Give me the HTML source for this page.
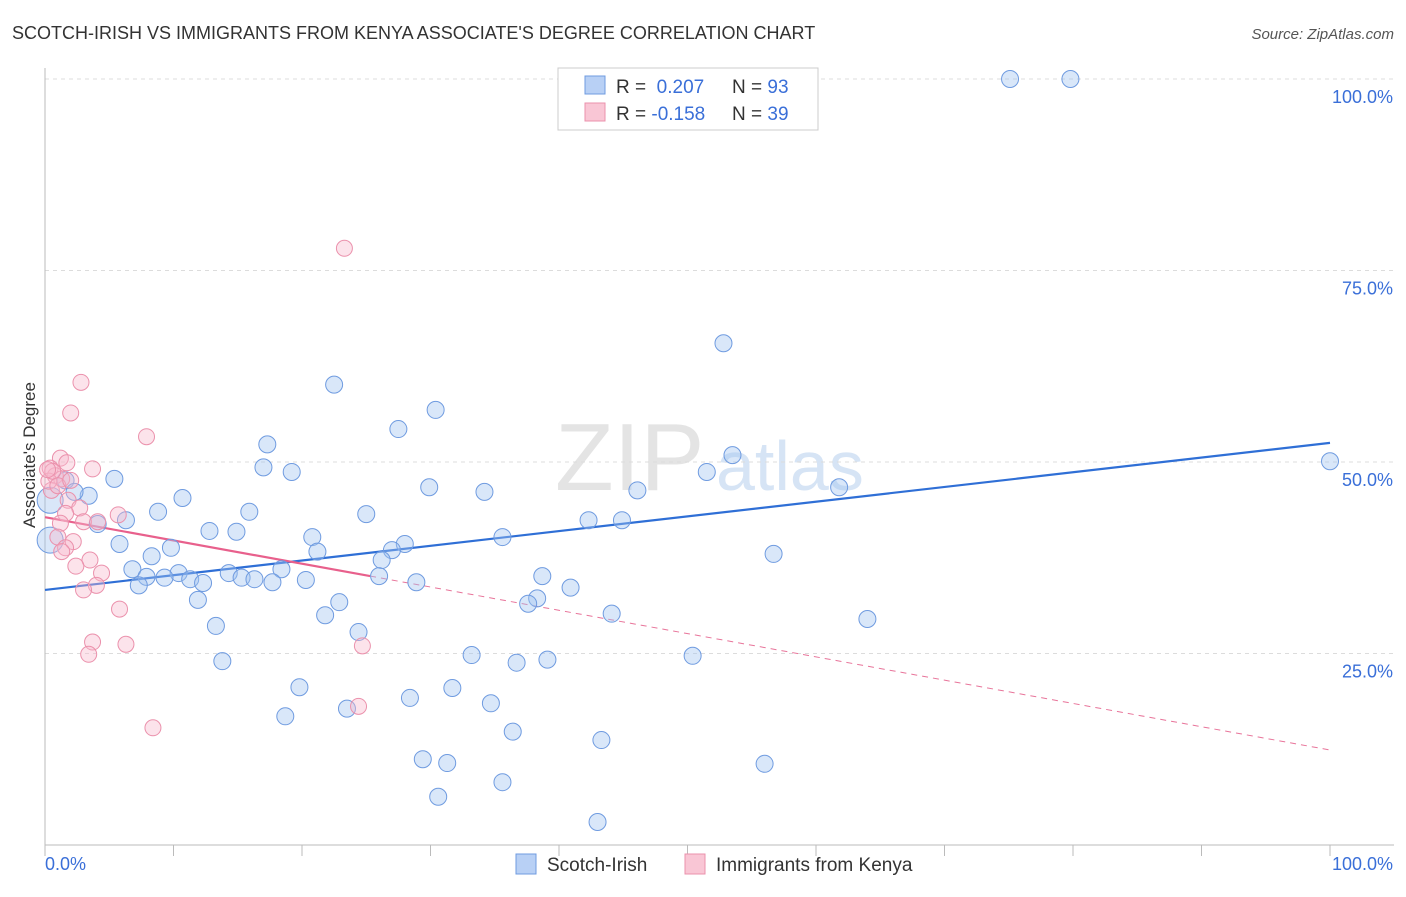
<!DOCTYPE html>
<html><head><meta charset="utf-8"><style>
body{margin:0;background:#fff;font-family:"Liberation Sans",sans-serif}
svg text{font-family:"Liberation Sans",sans-serif}
</style></head><body>
<svg width="1406" height="892" xmlns="http://www.w3.org/2000/svg">
<text x="12" y="39" font-size="18" fill="#333">SCOTCH-IRISH VS IMMIGRANTS FROM KENYA ASSOCIATE'S DEGREE CORRELATION CHART</text>
<text x="1394" y="39" font-size="15" fill="#555" font-style="italic" text-anchor="end">Source: ZipAtlas.com</text>
<g>
<text x="555" y="490" font-size="96" fill="#e4e4e4" font-family="Liberation Serif">ZIP</text>
<text x="716" y="490" font-size="70" fill="#d6e4f5">atlas</text>
</g>
<g id="grid"></g>
<g id="axes"></g>
<g id="lines"></g>
<g id="pts"></g>
<text x="35" y="455" font-size="17" fill="#333" text-anchor="middle" transform="rotate(-90 35 455)">Associate's Degree</text>
<g>
<rect x="558" y="68" width="260" height="62" fill="#fff" stroke="#ccc"/>
<rect x="585" y="76" width="20" height="18" fill="#b8d0f5" stroke="#6f9be0"/>
<rect x="585" y="103" width="20" height="18" fill="#f9c6d5" stroke="#eb91ac"/>
<text x="616" y="93" font-size="19" fill="#333">R = <tspan fill="#3a6fd8">&#160;0.207</tspan><tspan x="732">N = </tspan><tspan fill="#3a6fd8">93</tspan></text>
<text x="616" y="120" font-size="19" fill="#333">R = <tspan fill="#3a6fd8">-0.158</tspan><tspan x="732">N = </tspan><tspan fill="#3a6fd8">39</tspan></text>
</g>
<g>
<rect x="516" y="854" width="20" height="20" fill="#b8d0f5" stroke="#6f9be0"/>
<text x="547" y="871" font-size="19" fill="#333">Scotch-Irish</text>
<rect x="685" y="854" width="20" height="20" fill="#f9c6d5" stroke="#eb91ac"/>
<text x="716" y="871" font-size="19" fill="#333">Immigrants from Kenya</text>
</g>
</svg>
<script>
const yTicks=[25,50,75,100];
const yTickLabels=["25.0%","50.0%","75.0%","100.0%"];
const xTickLabels=["0.0%","100.0%"];
const blueX=[75.1,79.8,100,52.8,53.5,51.5,61.8,46.1,56.7,64.0,50.4,56.0,22.5,30.4,27.5,17.3,17.0,19.2,29.9,34.2,10.7,5.4,1.6,3.4,2.3,15.9,8.8,25.0,42.3,44.9,6.3,4.1,12.8,14.9,20.8,35.6,28.0,5.8,27.0,21.2,9.8,8.3,26.2,18.4,6.8,14.3,10.4,7.9,9.3,11.3,15.3,16.3,17.7,20.3,26.0,28.9,38.7,40.9,7.3,12.3,11.9,22.9,38.3,37.6,44.1,21.8,13.3,24.4,33.2,36.7,39.1,13.8,19.8,31.7,28.4,34.7,23.5,18.7,36.4,43.3,29.4,31.3,35.6,30.6,43.0,0.4,0.4];
const blueY=[100,100,50.1,65.5,50.9,48.7,46.7,46.3,38.0,29.5,24.7,10.6,60.1,56.8,54.3,52.3,49.3,48.7,46.7,46.1,45.3,47.8,47.6,45.6,46.1,43.5,43.5,43.2,42.4,42.4,42.4,41.9,41.0,40.9,40.2,40.2,39.3,39.3,38.5,38.3,38.8,37.7,37.2,36.0,36.0,35.5,35.5,35.0,34.9,34.7,34.9,34.7,34.3,34.6,35.1,34.3,35.1,33.6,33.9,34.2,32.0,31.7,32.2,31.5,30.2,30.0,28.6,27.8,24.8,23.8,24.2,24.0,20.6,20.5,19.2,18.5,17.8,16.8,14.8,13.7,11.2,10.7,8.2,6.3,3.0,45.0,39.8];
const pinkX=[23.3,2.8,2.0,7.9,1.2,1.7,3.7,0.4,0.8,1.3,0.5,1.8,2.7,5.7,1.6,3.0,4.1,1.2,1.0,2.2,1.6,1.3,3.5,2.4,4.4,4.0,3.0,5.8,3.7,6.3,3.4,24.7,24.4,8.4,0.3,0.6,1.0,2.0,0.2];
const pinkY=[77.9,60.4,56.4,53.3,50.5,49.9,49.1,49.2,48.2,47.8,46.3,45.0,44.0,43.1,43.3,42.2,42.2,42.0,40.2,39.6,38.8,38.3,37.2,36.4,35.5,33.9,33.3,30.8,26.5,26.2,24.9,26.0,18.1,15.3,47.5,48.8,46.9,47.6,49.0];
const blueTrend=[33.3,52.5];
const pinkTrend=[42.8,12.4];
const pinkSolidEnd=25.3;
const X=v=>45+v*12.85, Y=v=>845-v*7.66;
const NS="http://www.w3.org/2000/svg";
function mk(parent,tag,attrs){const e=document.createElementNS(NS,tag);for(const k in attrs)e.setAttribute(k,attrs[k]);document.getElementById(parent).appendChild(e);return e;}
yTicks.forEach((t,i)=>{
 const g=mk('grid','line',{x1:45,x2:1394,y1:Y(t),y2:Y(t),stroke:'#dcdcdc','stroke-dasharray':'4,4'});
 
 
 const l=mk('axes','text',{x:1393,y:Y(t)+24,'font-size':18,fill:'#3a6fd8','text-anchor':'end'});
 l.textContent=yTickLabels[i];
 
 
});
const ax=mk('axes','line',{x1:45,x2:1394,y1:845,y2:845,stroke:'#bbb'});


const ay=mk('axes','line',{x1:45,x2:45,y1:68,y2:845,stroke:'#bbb'});


for(let i=0;i<=10;i++){const t=mk('axes','line',{x1:X(i*10),x2:X(i*10),y1:845,y2:856,stroke:'#bbb'});
 
 }
[[0,'start',45],[100,'end',1393]].forEach((d,i)=>{const t=mk('axes','text',{x:d[2],y:870,'font-size':18,fill:'#3a6fd8','text-anchor':d[1]});
 t.textContent=xTickLabels[i];
 
 });
const bl=mk('lines','line',{x1:X(0),y1:Y(blueTrend[0]),x2:X(100),y2:Y(blueTrend[1]),stroke:'#2f6fd6','stroke-width':2.2});


const pe=pinkTrend[0]+(pinkTrend[1]-pinkTrend[0])*pinkSolidEnd/100;
const pd=mk('lines','line',{x1:X(pinkSolidEnd),y1:Y(pe),x2:X(100),y2:Y(pinkTrend[1]),stroke:'#e8749a','stroke-width':1,'stroke-dasharray':'6,5'});


const ps=mk('lines','line',{x1:X(0),y1:Y(pinkTrend[0]),x2:X(pinkSolidEnd),y2:Y(pe),stroke:'#e8608c','stroke-width':2.2});


blueX.forEach((x,i)=>{const r=i>=blueX.length-2?13:8.5;
 const c=mk('pts','circle',{cx:X(x),cy:Y(blueY[i]),r:r,fill:'rgba(160,195,240,0.4)',stroke:'#6f9be0','stroke-width':1});
 
 });
pinkX.forEach((x,i)=>{const c=mk('pts','circle',{cx:X(x),cy:Y(pinkY[i]),r:8,fill:'rgba(248,185,205,0.4)',stroke:'#eb91ac','stroke-width':1});
 
 });
</script>
</body></html>
